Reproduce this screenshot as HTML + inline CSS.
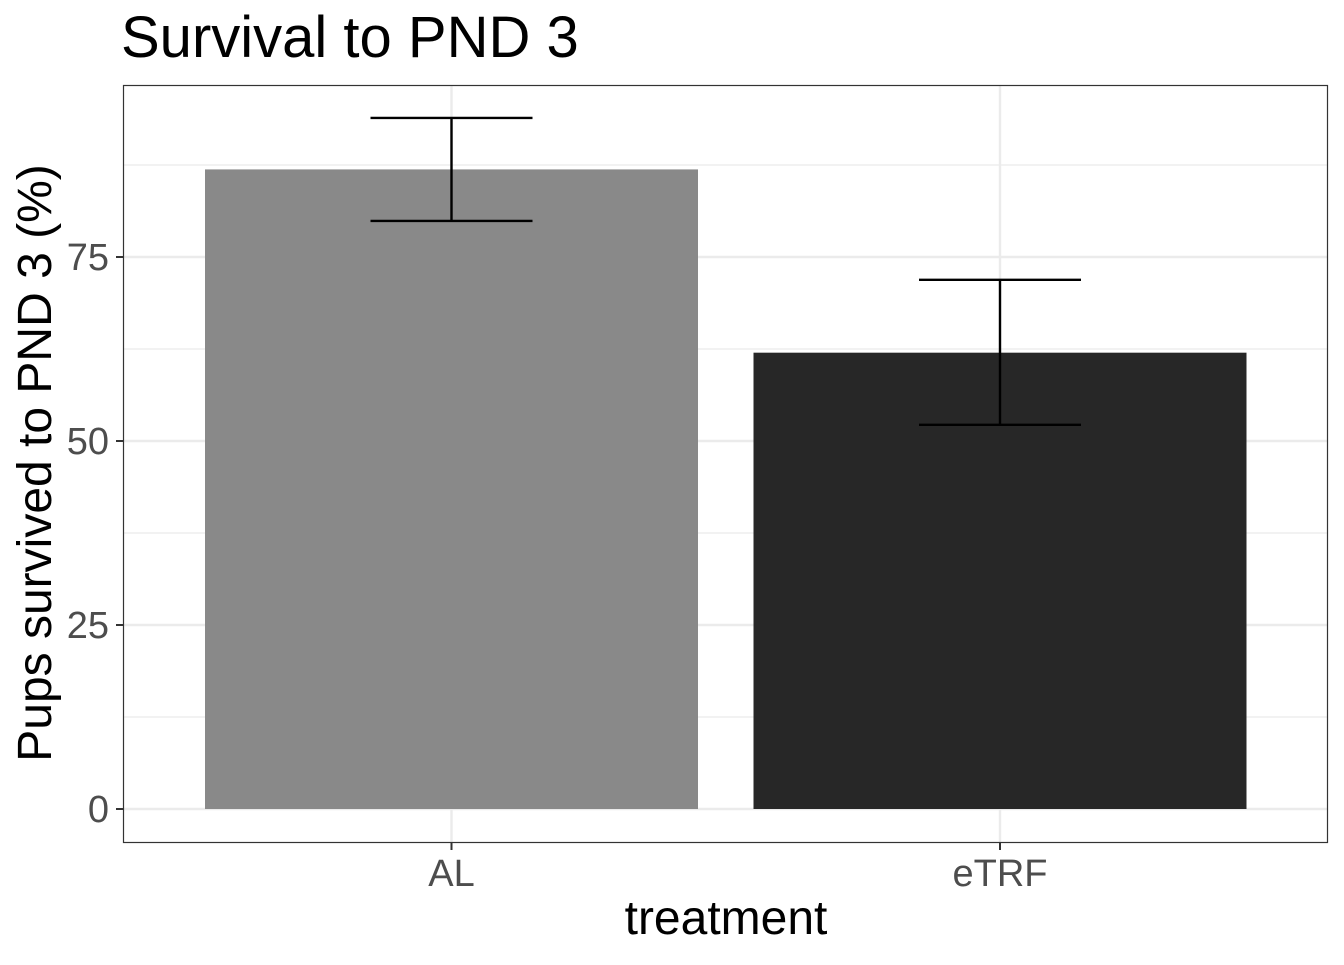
<!DOCTYPE html>
<html><head><meta charset="utf-8"><style>
body{margin:0;background:#fff;}
svg text{font-family:"Liberation Sans",Arial,sans-serif;}
</style></head><body>
<svg id="chart" width="1344" height="960" xmlns="http://www.w3.org/2000/svg">
<rect width="1344" height="960" fill="#fff"/>
<text x="121" y="57" font-size="58" fill="#000">Survival to PND 3</text>
<g id="grid"></g>
<g id="bars"></g>
<g id="errs"></g>
<rect x="123.5" y="85.5" width="1204" height="757" fill="none" stroke="#333" stroke-width="1.2"/>
<g id="axes"></g>
<text x="726" y="934" font-size="48" text-anchor="middle" fill="#000">treatment</text>
<text transform="translate(51,463) rotate(-90)" font-size="48" text-anchor="middle" fill="#000">Pups survived to PND 3 (%)</text>
</svg>
<script>
const categories=["AL","eTRF"];
const values=[86.9,62.0];
const errLow=[79.9,52.2];
const errHigh=[93.9,71.9];
const fills=["#898989","#272727"];
const yTicks=[0,25,50,75];
const yMinor=[12.5,37.5,62.5,87.5];
const NS="http://www.w3.org/2000/svg";
const y=v=>809-v*7.36;
const xc=i=>451.5+i*548.5;
const bw=493, ew=162;
const L=123,R=1328;
function mk(tag,attrs,parent){const e=document.createElementNS(NS,tag);for(const k in attrs)e.setAttribute(k,attrs[k]);document.getElementById(parent).appendChild(e);return e;}
yMinor.forEach(v=>{const e=mk("line",{x1:L,x2:R,y1:y(v),y2:y(v),stroke:"#ebebeb","stroke-width":1.2},"grid");

});
yTicks.forEach(v=>{const e=mk("line",{x1:L,x2:R,y1:y(v),y2:y(v),stroke:"#ebebeb","stroke-width":2.4},"grid");


const t=mk("line",{x1:116,x2:123,y1:y(v),y2:y(v),stroke:"#333","stroke-width":2},"axes");


const l=mk("text",{x:109,y:y(v)+13,"font-size":38,"text-anchor":"end",fill:"#4d4d4d"},"axes");l.textContent=v;

});
categories.forEach((c,i)=>{const g=mk("line",{x1:xc(i),x2:xc(i),y1:85,y2:843,stroke:"#ebebeb","stroke-width":2.4},"grid");


const b=mk("rect",{x:xc(i)-bw/2,y:y(values[i]),width:bw,height:y(0)-y(values[i]),fill:fills[i]},"bars");


const p=mk("path",{d:`M${xc(i)-ew/2},${y(errHigh[i])}H${xc(i)+ew/2}M${xc(i)},${y(errHigh[i])}V${y(errLow[i])}M${xc(i)-ew/2},${y(errLow[i])}H${xc(i)+ew/2}`,stroke:"#000","stroke-width":2.4,fill:"none"},"errs");


const t=mk("line",{x1:xc(i),x2:xc(i),y1:843,y2:850,stroke:"#333","stroke-width":2},"axes");


const l=mk("text",{x:xc(i),y:886,"font-size":38,"text-anchor":"middle",fill:"#4d4d4d"},"axes");l.textContent=c;

});
</script>
</body></html>
